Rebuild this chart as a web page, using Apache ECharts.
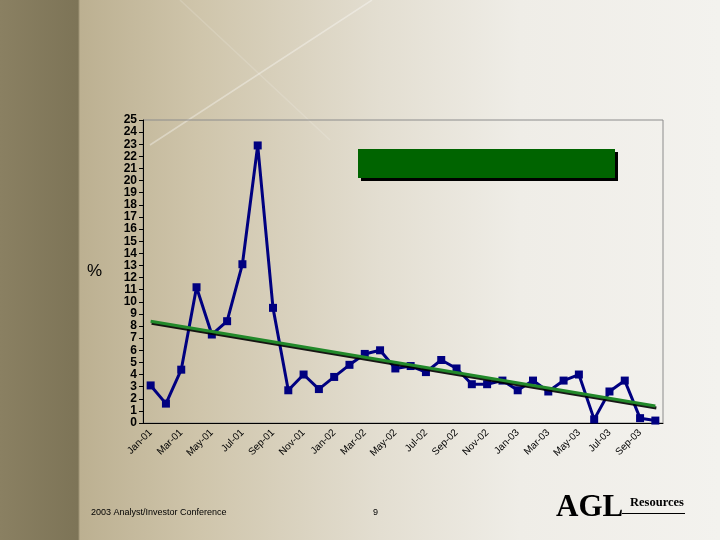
<!DOCTYPE html>
<html>
<head>
<meta charset="utf-8">
<script src="https://cdn.jsdelivr.net/npm/echarts@6/dist/echarts.min.js"></script>
<style>
html,body{margin:0;padding:0;width:720px;height:540px;overflow:hidden;}
body{
  background: linear-gradient(to right, #8a8062 0px, #7d7457 78px, #bcb091 80px, #cfc5ab 200px, #e3ded1 380px, #efede7 520px, #f3f2ee 720px);
}
#c{width:720px;height:540px;}
</style>
</head>
<body>
<div id="c"></div>
<script>
var categories = ['Jan-01','Feb-01','Mar-01','Apr-01','May-01','Jun-01','Jul-01','Aug-01','Sep-01','Oct-01','Nov-01','Dec-01',
  'Jan-02','Feb-02','Mar-02','Apr-02','May-02','Jun-02','Jul-02','Aug-02','Sep-02','Oct-02','Nov-02','Dec-02',
  'Jan-03','Feb-03','Mar-03','Apr-03','May-03','Jun-03','Jul-03','Aug-03','Sep-03','Oct-03'];
var values = [3.1,1.6,4.4,11.2,7.3,8.4,13.1,22.9,9.5,2.7,4.0,2.8,
  3.8,4.8,5.7,6.0,4.5,4.7,4.2,5.2,4.5,3.2,3.2,3.5,
  2.7,3.5,2.6,3.5,4.0,0.3,2.6,3.5,0.4,0.2];
var trendStart = 8.4;
var trendEnd = 1.4;
var yTicks = {min:0, max:25, interval:1};
var footerText = '2003 Analyst/Investor Conference';
var pageNumber = '9';

var trendData = categories.map(function(c,i){
  if(i===0) return trendStart;
  if(i===categories.length-1) return trendEnd;
  return null;
});

var chart = echarts.init(document.getElementById('c'), null, {renderer:'canvas'});
chart.setOption({
  backgroundColor:'transparent',
  animation:false,
  grid:{left:143, right:57, top:120, bottom:117, show:true, borderColor:'#8c8c8c', borderWidth:1, backgroundColor:'transparent'},
  xAxis:{
    type:'category', data:categories, boundaryGap:true,
    axisLine:{lineStyle:{color:'#000', width:1}},
    axisTick:{interval:1, length:4, lineStyle:{color:'#000'}},
    axisLabel:{interval:1, rotate:45, fontSize:10, color:'#000', fontFamily:'"Liberation Sans", Arial, sans-serif', margin:8},
    splitLine:{show:false}
  },
  yAxis:{
    type:'value', min:yTicks.min, max:yTicks.max, interval:yTicks.interval,
    axisLine:{show:true, lineStyle:{color:'#000', width:1}},
    axisTick:{show:true, length:4, lineStyle:{color:'#000'}},
    axisLabel:{fontSize:12, fontWeight:'bold', color:'#000', fontFamily:'"Liberation Sans Narrow", "Arial Narrow", sans-serif', margin:6},
    splitLine:{show:false}
  },
  series:[
    {
      type:'line', data:values, symbol:'rect', symbolSize:8,
      lineStyle:{color:'#000080', width:3},
      itemStyle:{color:'#000080'},
      z:3
    },
    {
      type:'line', data:trendData, connectNulls:true, symbol:'none',
      lineStyle:{color:'#22892a', width:3, shadowColor:'rgba(0,0,0,0.9)', shadowBlur:0, shadowOffsetX:1, shadowOffsetY:2},
      z:4
    }
  ],
  graphic:[
    {type:'line', z:-10, shape:{x1:372, y1:0, x2:150, y2:145}, style:{stroke:'rgba(255,255,255,0.35)', lineWidth:1.5}},
    {type:'line', z:-10, shape:{x1:180, y1:0, x2:330, y2:140}, style:{stroke:'rgba(255,255,255,0.15)', lineWidth:1.5}},
    {type:'rect', left:358, top:149, shape:{width:257, height:29}, style:{fill:'#006400', shadowColor:'#000', shadowBlur:0, shadowOffsetX:3, shadowOffsetY:3}},
    {type:'text', left:87, top:263, style:{text:'%', fontSize:17, fill:'#000', fontFamily:'"Liberation Sans", Arial, sans-serif'}},
    {type:'text', left:91, top:508, style:{text:footerText, fontSize:9, fill:'#000', fontFamily:'"Liberation Sans", Arial, sans-serif'}},
    {type:'text', left:373, top:508, style:{text:pageNumber, fontSize:9, fill:'#000', fontFamily:'"Liberation Sans", Arial, sans-serif'}},
    {type:'text', left:556, top:492, style:{text:'AGL', fontSize:31, fontWeight:'bold', fill:'#000', fontFamily:'"Liberation Serif", "DejaVu Serif", serif'}},
    {type:'text', left:630, top:496, style:{text:'Resources', fontSize:12.5, fontWeight:'bold', fill:'#000', fontFamily:'"Liberation Serif", "DejaVu Serif", serif'}},
    {type:'rect', left:622, top:513, shape:{width:63, height:1}, style:{fill:'#000'}}
  ]
});
</script>
</body>
</html>
